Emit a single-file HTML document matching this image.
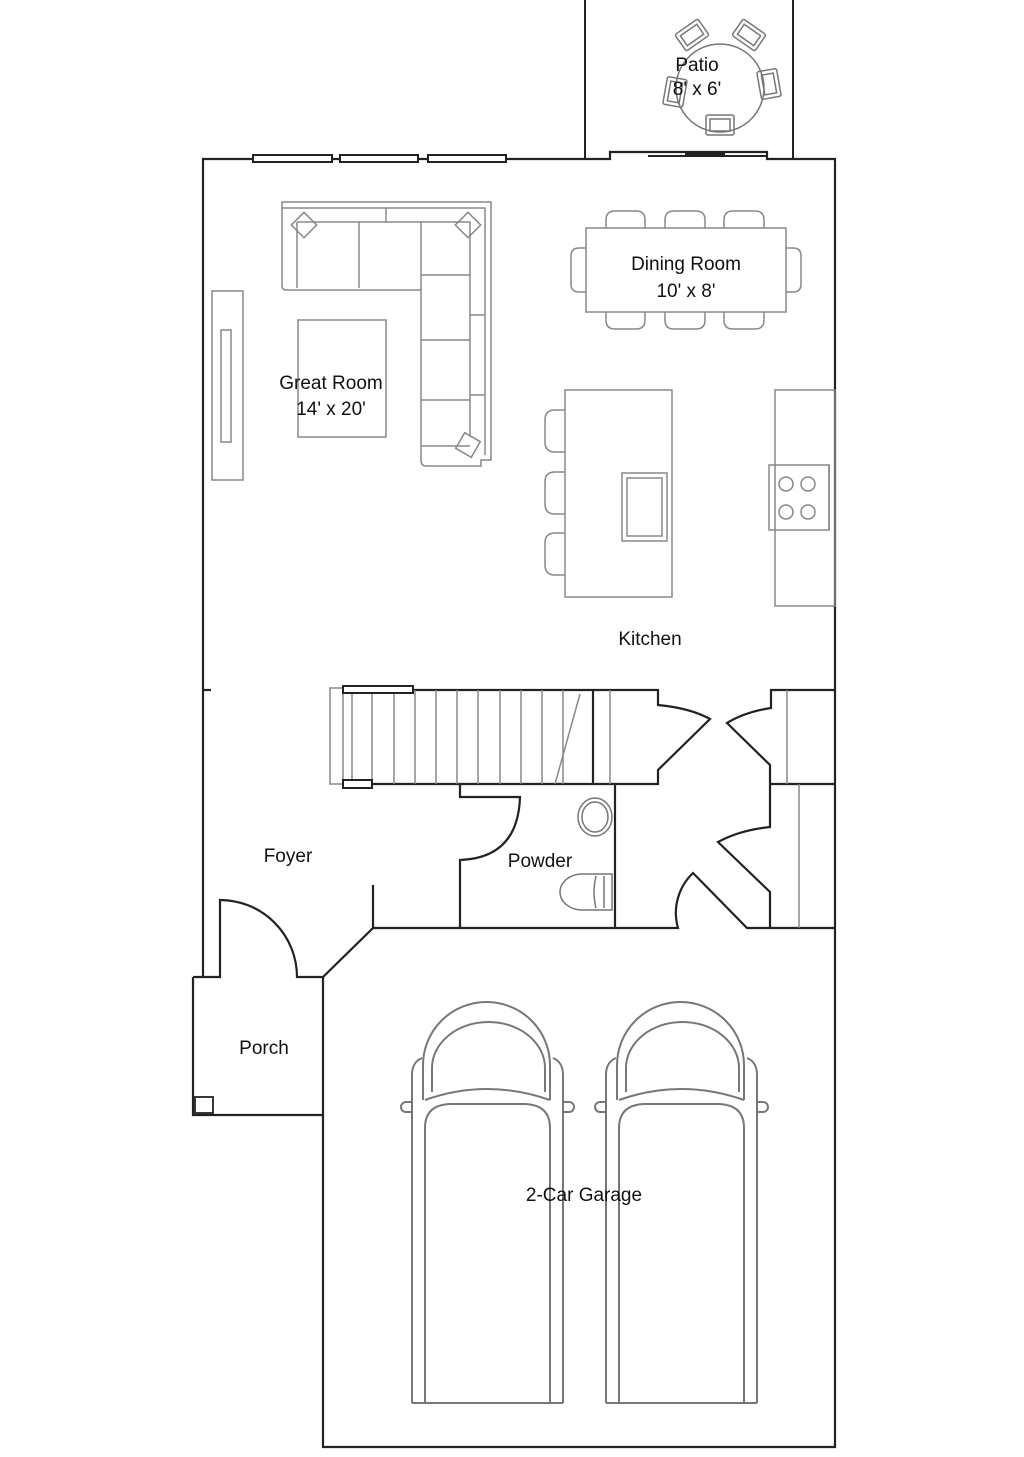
<!DOCTYPE html>
<html><head><meta charset="utf-8"><style>
html,body{margin:0;padding:0;background:#fff}
svg{display:block}
text{font-family:"Liberation Sans",sans-serif;font-size:19px;fill:#111;text-anchor:middle}
</style></head><body>
<svg width="1024" height="1457" viewBox="0 0 1024 1457" xmlns="http://www.w3.org/2000/svg">
<defs>
<g id="car" fill="none" stroke="#777" stroke-width="2">
  <path d="M412,1403 V1075 Q412,1062 422,1058"/>
  <path d="M563,1403 V1075 Q563,1062 553,1058"/>
  <path d="M423,1100 V1065 A63.5,63 0 0 1 550,1065 V1100"/>
  <path d="M432,1092 V1068 A56.5,46 0 0 1 545,1068 V1092"/>
  <path d="M425,1100 Q487,1078 550,1100"/>
  <path d="M425,1403 V1128 Q425,1105 450,1104 H525 Q550,1105 550,1128 V1403"/>
  <path d="M412,1403 H563"/>
  <path d="M412,1102 h-6 a5,5 0 0 0 0,10 h6"/>
  <path d="M563,1102 h6 a5,5 0 0 1 0,10 h-6"/>
</g>
<g id="chair" fill="none" stroke="#777" stroke-width="1.5">
  <rect x="-14" y="-10" width="28" height="20" rx="2"/>
  <rect x="-10" y="-6" width="20" height="12"/>
</g>
</defs>

<!-- patio -->
<g fill="none" stroke="#222" stroke-width="2">
  <path d="M585,0 V159 M793,0 V159"/>
</g>
<g fill="none" stroke="#777" stroke-width="1.5">
  <circle cx="720" cy="88" r="44"/>
  <use href="#chair" transform="translate(692,35) rotate(-35)"/>
  <use href="#chair" transform="translate(749,35) rotate(35)"/>
  <use href="#chair" transform="translate(769,84) rotate(80)"/>
  <use href="#chair" transform="translate(720,125)"/>
  <use href="#chair" transform="translate(675,92) rotate(-80)"/>
</g>

<!-- main walls -->
<g fill="none" stroke="#222" stroke-width="2.2">
  <path d="M203,977 V159 H610 V152 H767 V159 H835 V1447 H323 V977"/>
  <path d="M193,977 H220 V900 A77,77 0 0 1 297,977 H323 L373,928 V885"/>
  <path d="M193,977 V1115 H323"/>
  <rect x="195" y="1097" width="18" height="16" stroke-width="1.8"/>
  <path d="M373,928 H678 A55,55 0 0 1 693,873 L747,928 H835"/>
  <!-- stairs block -->
  <path d="M343,690 H658 V705 Q690,708 710,719 L658,770 V784 H372"/>
  <path d="M593,690 V784"/>
  <path d="M835,690 H771 V708 Q745,712 727,723 L770,765 V827 Q740,830 718,842 L770,892 V928"/>
  <path d="M770,784 H835"/>
  <!-- powder -->
  <path d="M460,928 V860 Q518,858 520,797 H460 V784"/>
  <path d="M615,784 V928"/>
  <path d="M203,690 h8"/>
</g>

<!-- windows -->
<g fill="#fff" stroke="#222" stroke-width="2">
  <rect x="253" y="155" width="79" height="7"/>
  <rect x="340" y="155" width="78" height="7"/>
  <rect x="428" y="155" width="78" height="7"/>
  <path d="M648,156 H767" stroke-width="2"/>
  <path d="M685,154 H725" stroke-width="3"/>
</g>

<!-- stairs -->
<g fill="none" stroke="#888" stroke-width="1.5">
  <rect x="330" y="688" width="13" height="96"/>
  <path d="M352,690 V784 M372,690 V784 M394,690 V784 M415,690 V784 M436,690 V784 M457,690 V784 M478,690 V784 M500,690 V784 M521,690 V784 M542,690 V784 M563,690 V784 M610,690 V784"/>
  <path d="M580,694 L555,784"/>
  <path d="M787,690 V784 M799,784 V928"/>
</g>
<g fill="#fff" stroke="#222" stroke-width="2">
  <rect x="343" y="686" width="70" height="7"/>
  <rect x="343" y="780" width="29" height="8"/>
</g>

<!-- powder fixtures -->
<g fill="none" stroke="#777" stroke-width="1.5">
  <ellipse cx="595" cy="817" rx="17" ry="19"/>
  <ellipse cx="595" cy="817" rx="13" ry="15"/>
  <path d="M612,874 H582 A22,18 0 0 0 582,910 H612 Z"/>
  <path d="M596,876 Q592,892 596,908 M604,876 V908"/>
</g>

<!-- great room furniture -->
<g fill="none" stroke="#888" stroke-width="1.5">
  <rect x="212" y="291" width="31" height="189"/>
  <rect x="221" y="330" width="10" height="112"/>
  <rect x="298" y="320" width="88" height="117"/>
  <path d="M282,202 H491 V460 H481 V466 H426 Q421,466 421,460 V290 H286 Q282,290 282,285 Z"/>
  <path d="M282,208 H485 V455"/>
  <path d="M297,222 H470 V437"/>
  <path d="M386,208 V222 M297,222 V288 M359,222 V288 M421,222 V290"/>
  <path d="M421,275 H470 M421,340 H470 M421,400 H470 M421,446 H470 M470,315 H485 M470,395 H485"/>
  <rect x="-9" y="-9" width="18" height="18" transform="translate(304,225) rotate(45)"/>
  <rect x="-9" y="-9" width="18" height="18" transform="translate(468,225) rotate(45)"/>
  <rect x="-9" y="-9" width="18" height="18" transform="translate(468,445) rotate(30)"/>
</g>

<!-- dining -->
<g fill="none" stroke="#888" stroke-width="1.5">
  <rect x="586" y="228" width="200" height="84"/>
  <path d="M606,228 V220 Q606,211 615,211 H636 Q645,211 645,220 V228"/>
  <path d="M665,228 V220 Q665,211 674,211 H696 Q705,211 705,220 V228"/>
  <path d="M724,228 V220 Q724,211 733,211 H755 Q764,211 764,220 V228"/>
  <path d="M606,312 V320 Q606,329 615,329 H636 Q645,329 645,320 V312"/>
  <path d="M665,312 V320 Q665,329 674,329 H696 Q705,329 705,320 V312"/>
  <path d="M724,312 V320 Q724,329 733,329 H755 Q764,329 764,320 V312"/>
  <path d="M586,248 H579 Q571,248 571,256 V284 Q571,292 579,292 H586"/>
  <path d="M786,248 H793 Q801,248 801,256 V284 Q801,292 793,292 H786"/>
</g>

<!-- kitchen -->
<g fill="none" stroke="#888" stroke-width="1.5">
  <rect x="565" y="390" width="107" height="207"/>
  <rect x="622" y="473" width="45" height="68"/>
  <rect x="627" y="478" width="35" height="58"/>
  <path d="M565,410 H555 Q545,410 545,420 V442 Q545,452 555,452 H565"/>
  <path d="M565,472 H555 Q545,472 545,482 V504 Q545,514 555,514 H565"/>
  <path d="M565,533 H555 Q545,533 545,543 V565 Q545,575 555,575 H565"/>
  <rect x="775" y="390" width="60" height="216"/>
  <rect x="769" y="465" width="60" height="65"/>
  <path d="M829,465 V530"/>
  <circle cx="786" cy="484" r="7"/><circle cx="808" cy="484" r="7"/>
  <circle cx="786" cy="512" r="7"/><circle cx="808" cy="512" r="7"/>
</g>

<!-- cars -->
<use href="#car"/>
<use href="#car" transform="translate(194,0)"/>

<!-- labels -->
<text x="697" y="71">Patio</text>
<text x="697" y="95">8' x 6'</text>
<text x="686" y="270">Dining Room</text>
<text x="686" y="297">10' x 8'</text>
<text x="331" y="389">Great Room</text>
<text x="331" y="415">14' x 20'</text>
<text x="650" y="645">Kitchen</text>
<text x="288" y="862">Foyer</text>
<text x="540" y="867">Powder</text>
<text x="264" y="1054">Porch</text>
<text x="584" y="1201">2-Car Garage</text>
</svg>
</body></html>
